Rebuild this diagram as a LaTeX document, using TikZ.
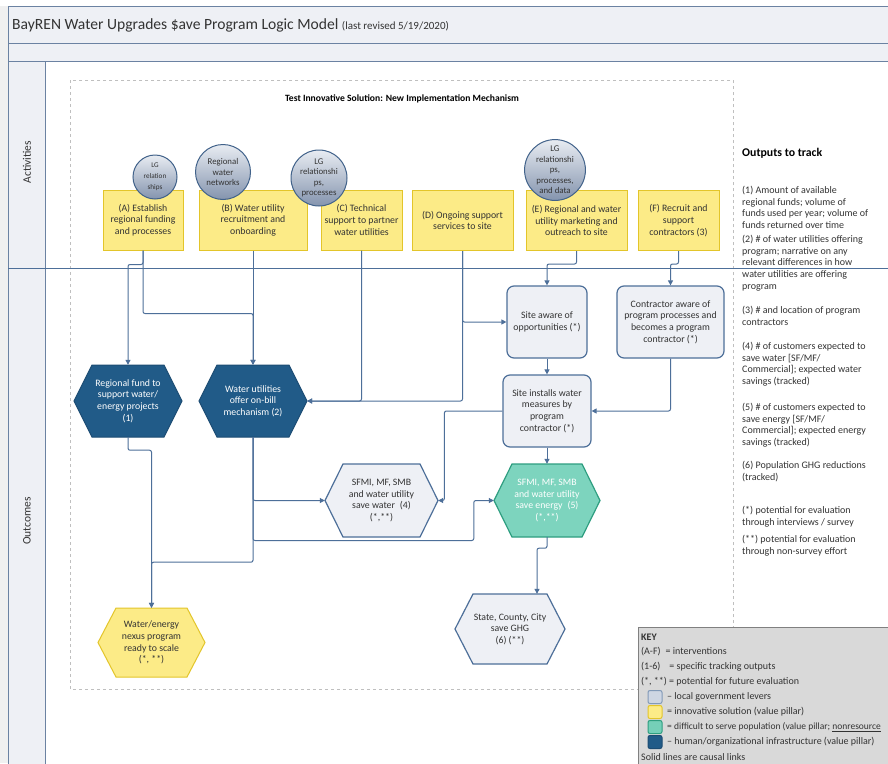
\documentclass[tikz,border=0pt]{standalone}
\usepackage{fontspec}
\setmainfont{Carlito}
\usetikzlibrary{arrows.meta,calc}
\definecolor{lineblue}{HTML}{4D6F99}
\definecolor{framec}{HTML}{6B82A2}
\definecolor{bandfill}{HTML}{EEF0F5}
\definecolor{yfill}{HTML}{FCEB87}
\definecolor{ydraw}{HTML}{E3C52A}
\definecolor{dbfill}{HTML}{215B88}
\definecolor{dbdraw}{HTML}{1C4C73}
\definecolor{ltfill}{HTML}{EEF0F5}
\definecolor{ltdraw}{HTML}{4D6F99}
\definecolor{tlfill}{HTML}{7DD4BE}
\definecolor{tldraw}{HTML}{2E9E80}
\definecolor{txt}{HTML}{333333}
\definecolor{keyfill}{HTML}{D9D9D9}
\definecolor{keydraw}{HTML}{808080}
\definecolor{circtop}{HTML}{E8ECF2}
\definecolor{circbot}{HTML}{8494AE}
\definecolor{circdraw}{HTML}{41628A}
\newcommand{\hexpath}[5]{%
  \path[#5] ({#1-#3/2},#2) -- ({#1-#3/2+18},{#2-#4/2}) -- ({#1+#3/2-18},{#2-#4/2})
    -- ({#1+#3/2},#2) -- ({#1+#3/2-18},{#2+#4/2}) -- ({#1-#3/2+18},{#2+#4/2}) -- cycle;}
\begin{document}
\begin{tikzpicture}[x=1pt,y=-1pt,
  nodefont/.style={font=\fontsize{9.8}{11.7}\selectfont},
  actbox/.style={rectangle,draw=ydraw,fill=yfill,line width=1pt,minimum height=60pt,inner sep=1pt,align=center,text=txt,nodefont},
  circ/.style={circle,draw=circdraw,line width=1pt,top color=circtop,bottom color=circbot,inner sep=0pt,align=center,text=txt,font=\fontsize{8.8}{10.5}\selectfont},
  rbox/.style={rectangle,rounded corners=7pt,draw=ltdraw,fill=ltfill,line width=1.2pt,minimum height=72pt,inner sep=1pt,align=center,text=txt,nodefont},
  hexnode/.style={rectangle,inner sep=0pt,align=center,nodefont},
  hexdark/.style={fill=dbfill,draw=dbdraw,line width=1pt},
  hexlight/.style={fill=ltfill,draw=ltdraw,line width=1.2pt},
  hexteal/.style={fill=tlfill,draw=tldraw,line width=1.2pt},
  hexyel/.style={fill=yfill,draw=ydraw,line width=1pt},
  conn/.style={draw=lineblue,line width=1pt,rounded corners=2pt,-{Triangle[length=5pt,width=5pt]}},
  outtxt/.style={anchor=north west,inner sep=0pt,align=left,text=txt,font=\fontsize{10}{11.7}\selectfont},
  keytxt/.style={anchor=west,inner sep=0pt,text=txt,font=\fontsize{10}{12}\selectfont},
  swatch/.style={rectangle,rounded corners=2pt,minimum width=14pt,minimum height=13pt,inner sep=0pt,line width=1pt}
]
\useasboundingbox (0,0) rectangle (888,763);
\clip (0,0) rectangle (888,763);
% background and frame
\fill[white] (0,0) rectangle (888,763);
\fill[black!6] (0,6) rectangle (8,763);
\path[fill=bandfill,draw=framec,line width=1pt] (8,6) rectangle (900,43);
\path[fill=bandfill,draw=framec,line width=1pt] (8,43) rectangle (900,61);
\path[fill=white,draw=framec,line width=1pt] (45,61) rectangle (900,780);
\path[fill=bandfill,draw=framec,line width=1pt] (8,61) rectangle (45,780);
\node[anchor=west,inner sep=0pt,text=txt] (title) at (12,25) {\fontsize{15.6}{18}\selectfont BayREN Water Upgrades \$ave Program Logic Model \fontsize{11}{12}\selectfont(last revised 5/19/2020)};
\node[rotate=90,text=txt,font=\fontsize{11.5}{13}\selectfont] (lact) at (27,162) {Activities};
\node[rotate=90,text=txt,font=\fontsize{11.5}{13}\selectfont] (lout) at (27,521) {Outcomes};
% dashed area
\draw[black!25,dashed,line width=0.6pt] (70,80) rectangle (733,689);
\node[font=\bfseries\fontsize{9.6}{11}\selectfont,text=black] (mech) at (402,99) {Test Innovative Solution: New Implementation Mechanism};

% activity boxes
\node[actbox,minimum width=80pt] (actA) at (143,220) {(A) Establish\\regional funding\\and processes};
\node[actbox,minimum width=108pt] (actB) at (253,220) {(B) Water utility\\recruitment and\\onboarding};
\node[actbox,minimum width=81pt] (actC) at (361.5,220) {(C) Technical\\support to partner\\water utilities};
\node[actbox,minimum width=101pt] (actD) at (462.5,220.5) {(D) Ongoing support\\services to site};
\node[actbox,minimum width=101pt] (actE) at (576.5,220.5) {(E) Regional and water\\utility marketing and\\outreach to site};
\node[actbox,minimum width=81pt] (actF) at (678.5,220.5) {(F) Recruit and\\support\\contractors (3)};

% circles
\node[circ,minimum size=44pt,font=\fontsize{7.2}{10.8}\selectfont] (cA) at (155,177) {LG\\relation\\ships};
\node[circ,minimum size=55pt] (cB) at (223,172) {Regional\\water\\networks};
\node[circ,minimum size=56pt] (cC) at (319,178) {LG\\relationshi\\ps,\\processes};
\node[circ,minimum size=55pt] (cE) at (555,170) {LG\\relationshi\\ps,\\processes,\\and data};

% outcome rounded boxes
\node[rbox,minimum width=80pt] (siteA) at (547,322) {Site aware of\\opportunities (*)};
\node[rbox,minimum width=107pt] (contr) at (670.5,322) {Contractor aware of\\program processes and\\becomes a program\\contractor (*)};
\node[rbox,minimum width=88pt] (siteI) at (547,411) {Site installs water\\measures by\\program\\contractor (*)};

% hexagons
\hexpath{128}{401}{108}{72}{hexdark}
\node[hexnode,minimum width=108pt,minimum height=72pt,text=white] (fund) at (128,401) {Regional fund to\\support water/\\energy projects\\(1)};
\hexpath{253}{401}{108}{72}{hexdark}
\node[hexnode,minimum width=108pt,minimum height=72pt,text=white] (util) at (253,401) {Water utilities\\offer on-bill\\mechanism (2)};
\hexpath{381.5}{500.5}{113}{73}{hexlight}
\node[hexnode,minimum width=113pt,minimum height=73pt,text=txt] (sfW) at (381.5,500.5) {SFMI, MF, SMB\\and water utility\\save water\enspace(4)\\(*,**)};
\hexpath{547}{500.5}{106}{73}{hexteal}
\node[hexnode,minimum width=106pt,minimum height=73pt,text=white] (sfE) at (547,500.5) {SFMI, MF, SMB\\and water utility\\save energy\enspace(5)\\(*,**)};
\hexpath{510}{629}{110}{70}{hexlight}
\node[hexnode,minimum width=110pt,minimum height=70pt,text=txt] (state) at (510,629) {State, County, City\\save GHG\\(6) (**)};
\hexpath{151.5}{642.5}{107}{69}{hexyel}
\node[hexnode,minimum width=107pt,minimum height=69pt,text=txt] (nexus) at (151.5,642.5) {Water/energy\\nexus program\\ready to scale\\(*, **)};

% connectors
\draw[conn] (actA.south) -- ++(0,14) -| (fund.north);
\draw[conn] (actA.south) -- ++(0,63) -| (util.north);
\draw[conn] (actB.south) -- (util.north);
\draw[conn] (actC.south) |- (util.east);
\draw[conn] (actD.south) |- (util.east);
\draw[conn] (actD.south) |- (siteA.west);
\draw[conn] (actE.south) -- ++(0,13) -| (siteA.north);
\draw[conn] (actF.south) -- ++(0,13) -| (contr.north);
\draw[conn] (siteA.south) -- (siteI.north);
\draw[conn] (contr.south) |- (siteI.east);
\draw[conn] (siteI.west) -- ++(-58,0) |- (sfW.east);
\draw[conn] (siteI.south) -- (sfE.north);
\draw[conn] (util.south) |- (sfW.west);
\draw[conn] (util.south) |- ($(sfE.west)+(-20,40)$) |- (sfE.west);
\draw[conn] (util.south) -- ++(0,125) -| (nexus.north);
\draw[conn] (fund.south) -- ++(0,13) -| (nexus.north);
\draw[conn] (sfE.south) -- ++(0,11) -| ($(state.north)+(27,0)$);

% outputs to track
\node[anchor=west,inner sep=0pt,text=black,font=\bfseries\fontsize{11.8}{13}\selectfont] (outh) at (742,153) {Outputs to track};
\node[outtxt] (o1) at (742,186) {(1) Amount of available\\regional funds; volume of\\funds used per year; volume of\\funds returned over time};
\node[outtxt] (o2) at (742,235) {(2) \# of water utilities offering\\program; narrative on any\\relevant differences in how\\water utilities are offering\\program};
\node[outtxt] (o3) at (742,306) {(3) \# and location of program\\contractors};
\node[outtxt] (o4) at (742,342) {(4) \# of customers expected to\\save water [SF/MF/\\Commercial]; expected water\\savings (tracked)};
\node[outtxt] (o5) at (742,403) {(5) \# of customers expected to\\save energy [SF/MF/\\Commercial]; expected energy\\savings (tracked)};
\node[outtxt] (o6) at (742,461) {(6) Population GHG reductions\\(tracked)};
\node[outtxt] (o7) at (742,506) {(*) potential for evaluation\\through interviews / survey};
\node[outtxt] (o8) at (742,535) {(**) potential for evaluation\\through non-survey effort};

% lane divider
\draw[draw=lineblue,line width=1pt] (8,268) -- (900,268);

% key
\path[fill=keyfill,draw=keydraw,line width=1pt] (638,627) rectangle (900,780);
\node[keytxt,font=\bfseries\fontsize{10}{12}\selectfont] (kh) at (641,637) {KEY};
\node[keytxt] (k1) at (641,652) {(A-F)\hspace{5pt}= interventions};
\node[keytxt] (k2) at (641,667) {(1-6)\hspace{9pt}= specific tracking outputs};
\node[keytxt] (k3) at (641,682) {(*, **) = potential for future evaluation};
\node[swatch,fill=ltfill!80!ltdraw,draw=ltdraw!70] (s1) at (655,697) {};
\node[swatch,fill=yfill,draw=ydraw] (s2) at (655,712) {};
\node[swatch,fill=tlfill!90!tldraw,draw=tldraw] (s3) at (655,727) {};
\node[swatch,fill=dbfill,draw=dbdraw] (s4) at (655,742) {};
\node[keytxt] (t1) at (667,697) {– local government levers};
\node[keytxt] (t2) at (667,712) {= innovative solution (value pillar)};
\node[keytxt,font=\fontsize{9.5}{12}\selectfont] (t3) at (667,727) {= difficult to serve population (value pillar; \underline{nonresource}};
\node[keytxt] (t4) at (667,742) {– human/organizational infrastructure (value pillar)};
\node[keytxt] (k5) at (641,757) {Solid lines are causal links};
\end{tikzpicture}
\end{document}
